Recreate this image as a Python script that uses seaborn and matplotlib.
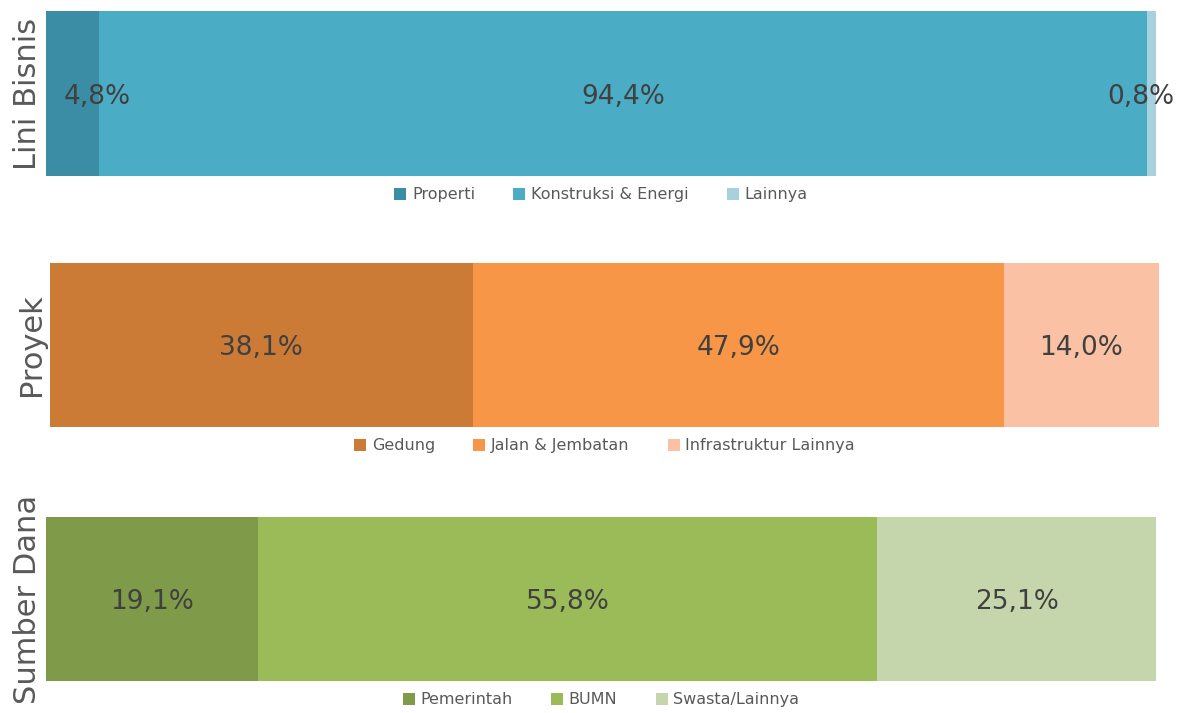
import matplotlib
matplotlib.use("Agg")
import numpy as np
import pandas as pd
import matplotlib.pyplot as plt
import seaborn as sns

# Data
panel_titles = ["Lini Bisnis", "Proyek", "Sumber Dana"]

lini_labels = ["Properti", "Konstruksi & Energi", "Lainnya"]
lini_values = [4.8, 94.4, 0.8]

proyek_labels = ["Gedung", "Jalan & Jembatan", "Infrastruktur Lainnya"]
proyek_values = [38.1, 47.9, 14.0]

dana_labels = ["Pemerintah", "BUMN", "Swasta/Lainnya"]
dana_values = [19.1, 55.8, 25.1]

lini_colors = ["#3A8DA5", "#4BACC6", "#A8D1DE"]
proyek_colors = ["#CC7B37", "#F79646", "#FAC1A4"]
dana_colors = ["#7F9A48", "#9BBB59", "#C6D6AC"]

panels = [
    (lini_labels, lini_values, lini_colors),
    (proyek_labels, proyek_values, proyek_colors),
    (dana_labels, dana_values, dana_colors),
]

# axes boxes in pixels (left, top, right, bottom)
W, H = 1179, 713
boxes = [(46, 11, 1156, 176), (50, 263, 1159, 427), (46, 517, 1156, 681)]

sns.set_theme(style="white")
plt.rcParams["font.family"] = ["DejaVu Sans"]

fig = plt.figure(figsize=(W / 100, H / 100), dpi=100)
fig.patch.set_facecolor("white")

for (labels, values, colors), title, (l, t, r, b) in zip(panels, panel_titles, boxes):
    ax = fig.add_axes([l / W, 1 - b / H, (r - l) / W, (b - t) / H])
    cum = np.cumsum(values)
    # draw cumulative totals from the largest down so segments stack
    for i in range(len(values) - 1, -1, -1):
        df = pd.DataFrame({"val": [cum[i]], "cat": [title]})
        sns.barplot(data=df, x="val", y="cat", orient="h", color=colors[i],
                    width=1.0, saturation=1, ax=ax, label=labels[i],
                    linewidth=0)
    ax.set_xlim(0, 100)
    ax.set_ylim(0.5, -0.5)
    ax.set_xticks([])
    ax.set_yticks([])
    ax.set_xlabel("")
    ax.set_ylabel(title, fontsize=22, color="#595959", labelpad=3)
    for s in ax.spines.values():
        s.set_visible(False)

    # value labels (small segments: label sits over the segment edge)
    starts = cum - np.array(values)
    for i, v in enumerate(values):
        x = starts[i] + v / 2
        if v < 6:
            x = cum[i] - 0.2 if i == 0 else starts[i] - 0.6
        ax.text(x, 0.02, f"{v:.1f}%".replace(".", ","), ha="center", va="center",
                fontsize=19, color="#404040")

    handles, hl = ax.get_legend_handles_labels()
    order = [hl.index(n) for n in labels]
    ax.legend([handles[k] for k in order], labels, loc="upper center",
              bbox_to_anchor=(0.5, -0.01), ncol=3, frameon=False,
              fontsize=11.5, labelcolor="#595959", handlelength=0.75,
              handleheight=0.75, handletextpad=0.35, columnspacing=2.4,
              borderaxespad=0.2)

fig.savefig("out.png", dpi=100, facecolor="white")
